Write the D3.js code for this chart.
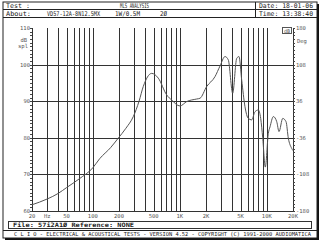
<!DOCTYPE html>
<meta charset="utf-8">
<body style="margin:0;background:#fff">
<svg width="325" height="250"></svg>
<script src="https://cdn.jsdelivr.net/npm/d3@7"></script>
<script>

    // response curve, Hz / dB spl
    var freqs = [20, 30, 40, 50, 70, 100, 120, 160, 196, 240, 292, 340, 380, 475, 566, 707, 807, 1004, 1200, 1564, 1706, 2036, 2536, 2896, 3306, 3608, 4052, 4506, 4790, 5144, 5612, 6126, 6700, 7312, 7980, 8506, 8972, 9612, 10408, 10890, 11886, 13008, 13814, 15240, 16636, 17672, 19332, 20000];
    var spl = [61.7, 63.3, 64.8, 66.4, 68.8, 71.8, 74.3, 77.3, 79.9, 82.6, 85.8, 90.0, 94.0, 97.6, 96.3, 91.7, 90.3, 88.7, 89.9, 90.6, 90.8, 94.0, 96.7, 99.6, 102.2, 101.3, 92.2, 101.7, 102.2, 95.8, 88.5, 85.3, 84.9, 87.1, 87.6, 85.3, 80.0, 72.0, 81.2, 83.0, 85.8, 84.4, 81.7, 85.3, 84.4, 79.9, 77.1, 76.5];

    var xTicks = [20, 30, 50, 100, 200, 500, 1000, 2000, 5000, 10000, 20000];
    var xTickLabels = ["20", "Hz", "50", "100", "200", "500", "1K", "2K", "5K", "10K", "20K"];
    var dbTicks = [110, 100, 90, 80, 70, 60];
    var degTicks = [180, 108, 36, -36, -108, -180];

    var svg = d3.select("svg");
    var mono = "DejaVu Sans Mono, monospace";

    var x = d3.scaleLog().domain([20, 20000]).range([32, 293]);
    var y = d3.scaleLinear().domain([60, 110]).range([211, 28]);
    var yDeg = d3.scaleLinear().domain([-180, 180]).range([211, 28]);

    // frame with shadow
    svg.append("rect").attr("x", 5).attr("y", 4).attr("width", 314).attr("height", 236).attr("fill", "#111");
    svg.append("rect").attr("x", 3).attr("y", 2).attr("width", 314).attr("height", 236)
        .attr("fill", "#fff").attr("stroke", "#222").attr("stroke-width", 1);

    // header
    svg.append("line").attr("x1", 3).attr("x2", 317).attr("y1", 9.5).attr("y2", 9.5).attr("stroke", "#222");
    svg.append("line").attr("x1", 3).attr("x2", 317).attr("y1", 17.5).attr("y2", 17.5).attr("stroke", "#222");
    svg.append("line").attr("x1", 255.5).attr("x2", 255.5).attr("y1", 2).attr("y2", 17.5).attr("stroke", "#222");

    function label(txt, px, py, len, opts) {
        opts = opts || {};
        var t = svg.append("text").attr("x", px).attr("y", py)
            .attr("font-family", mono).attr("font-size", opts.size || 6.5)
            .attr("font-weight", opts.weight || "normal")
            .attr("fill", opts.fill || "#222")
            .attr("text-anchor", opts.anchor || "start")
            .text(txt);
        if (len) t.attr("textLength", len).attr("lengthAdjust", "spacingAndGlyphs");
        return t;
    }

    label("Test :", 6, 8, 24);
    label("MLS ANALYSIS", 120, 8, 29);
    label("Date: 18-01-06", 259, 8, 54);
    label("About:", 6, 16, 25);
    label("VD57-12A-8N12.5MX", 47, 16, 53);
    label("1W/0.5M", 115, 16, 25);
    label("2\u00d8", 160, 16, 7);
    label("Time: 13:38:40", 259, 16, 54);

    // grid
    var grid = svg.append("g").attr("stroke", "#333").attr("stroke-width", 1);
    var gridFreqs = [];
    [10, 100, 1000, 10000].forEach(function (dec) {
        for (var k = 1; k <= 9; k++) {
            var f = dec * k;
            if (f >= 20 && f <= 20000) gridFreqs.push(f);
        }
    });
    gridFreqs.push(20000);
    grid.selectAll(".v").data(gridFreqs).enter().append("line")
        .attr("x1", function (d) { return Math.round(x(d)) + 0.5; })
        .attr("x2", function (d) { return Math.round(x(d)) + 0.5; })
        .attr("y1", 28).attr("y2", 211);
    grid.selectAll(".h").data(dbTicks.slice(1)).enter().append("line")
        .attr("x1", 32).attr("x2", 293)
        .attr("y1", function (d) { return Math.round(y(d)) + 0.5; })
        .attr("y2", function (d) { return Math.round(y(d)) + 0.5; });

    // minor ticks on both axes
    var minor = d3.range(60, 111, 1);
    svg.append("g").attr("stroke", "#444").selectAll("line").data(minor).enter().append("line")
        .attr("x1", 30).attr("x2", 32)
        .attr("y1", function (d) { return Math.round(y(d)) + 0.5; })
        .attr("y2", function (d) { return Math.round(y(d)) + 0.5; });
    svg.append("g").attr("stroke", "#444").selectAll("line").data(minor).enter().append("line")
        .attr("x1", 293).attr("x2", 295)
        .attr("y1", function (d) { return Math.round(y(d)) + 0.5; })
        .attr("y2", function (d) { return Math.round(y(d)) + 0.5; });

    // curve
    var pts = freqs.map(function (f, i) { return [f, spl[i]]; });
    svg.append("path").datum(pts)
        .attr("fill", "none").attr("stroke", "#555").attr("stroke-width", 1)
        .attr("d", d3.line()
            .x(function (d) { return x(d[0]); })
            .y(function (d) { return y(d[1]); })
            .curve(d3.curveMonotoneX));

    // axis labels
    var small = {size: 5.5, fill: "#555", anchor: "end"};
    dbTicks.forEach(function (d) {
        label(String(d), 30, y(d) + 2, null, small);
    });
    label("dB", 27, 42, null, small);
    label("spl", 28, 48, null, small);

    var smallR = {size: 5.5, fill: "#555", anchor: "start"};
    degTicks.forEach(function (d) {
        label(String(d), 296, yDeg(d) + 2, null, smallR);
    });
    label("Deg", 297, 43, null, smallR);

    var smallC = {size: 5.5, fill: "#555", anchor: "middle"};
    xTicks.forEach(function (d, i) {
        label(xTickLabels[i], x(d), 218, null, smallC);
    });

    // legend box
    svg.append("rect").attr("x", 282.5).attr("y", 27.5).attr("width", 9).attr("height", 6)
        .attr("fill", "#fff").attr("stroke", "#555");
    label("dB", 287, 32.5, null, {size: 5, fill: "#555", anchor: "middle"});

    // footer
    svg.append("rect").attr("x", 8.5).attr("y", 221.5).attr("width", 303).attr("height", 7)
        .attr("fill", "#fff").attr("stroke", "#333");
    label("File: 57i2A1\u00d8   Reference: NONE", 13, 227, 121, {size: 6, weight: "bold"});
    svg.append("line").attr("x1", 3).attr("x2", 317).attr("y1", 230.5).attr("y2", 230.5).attr("stroke", "#222");
    label("C L I O  -  ELECTRICAL & ACOUSTICAL TESTS  -  VERSION 4.52  -  COPYRIGHT (C) 1991-2000 AUDIOMATICA",
        14, 236, 297, {size: 5.5});

</script>
</body>
